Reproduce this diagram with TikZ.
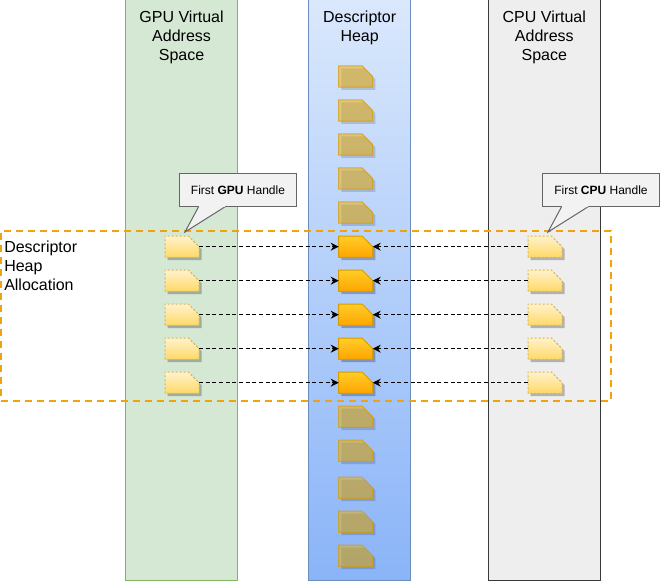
\documentclass[tikz,border=0pt]{standalone}
\usepackage{fontspec}
\setmainfont{Liberation Sans}
\usetikzlibrary{positioning,shadows,arrows.meta}
\definecolor{gpufill}{HTML}{D5E8D4}
\definecolor{gpuline}{HTML}{82B366}
\definecolor{heaptop}{HTML}{DAE8FC}
\definecolor{heapbot}{HTML}{8AB4F8}
\definecolor{heapline}{HTML}{6C8EBF}
\definecolor{cpufill}{HTML}{EEEEEE}
\definecolor{cpuline}{HTML}{36393D}
\definecolor{allocline}{HTML}{F0A30A}
\definecolor{usedtop}{HTML}{FFCD28}
\definecolor{usedbot}{HTML}{FFA500}
\definecolor{usedline}{HTML}{D79B00}
\definecolor{freefill}{HTML}{F0B000}
\definecolor{handletop}{HTML}{FFF2CC}
\definecolor{handlebot}{HTML}{FFD966}
\definecolor{handleline}{HTML}{D6B656}
\tikzset{
  column/.style={draw,anchor=north west,minimum height=436pt,inner sep=0pt,outer sep=0pt,line width=0.75pt},
  coltitle/.style={align=center,font=\fontsize{12}{14.25}\selectfont,inner sep=0pt},
  cardbox/.style={rectangle,minimum width=25.5pt,minimum height=16pt,inner sep=0pt,outer sep=0pt},
  card/.style={line width=0.75pt,line join=round,
    drop shadow={shadow xshift=2pt,shadow yshift=-2pt,opacity=0.25,fill=black}},
  handlecard/.style={card,dash pattern=on 1.5pt off 1.5pt,draw=handleline,top color=handletop,bottom color=handlebot},
  freecard/.style={line width=0.75pt,opacity=0.5,draw opacity=0.7,draw=usedline,fill=freefill,
    drop shadow={shadow xshift=2pt,shadow yshift=-2pt,opacity=0.15,fill=black}},
  usedcard/.style={card,draw=usedline,top color=usedtop,bottom color=usedbot},
  handle/.style={draw=black!60,fill=black!5,anchor=north west,inner sep=0pt,outer sep=0pt,line width=0.75pt,
    minimum width=88pt,minimum height=25pt,font=\fontsize{9}{11}\selectfont},
  tail/.style={draw=black!60,fill=black!5,line width=0.75pt},
  link/.style={densely dashed,-{Stealth[length=6pt,width=6pt]},line width=0.75pt}
}
% a card: named box at (#3), its outline in style #2
\newcommand{\cardat}[3]{
  \node[cardbox] (#1) at (#3) {};
  \path[#2] (#1.south west) -- (#1.north west) -- ([xshift=-8pt]#1.north east)
    -- ([yshift=-8pt]#1.north east) -- (#1.south east) -- cycle;
}
\begin{document}
\begin{tikzpicture}[x=0.75pt,y=-0.75pt]
  \useasboundingbox (0,0) rectangle (660,581);
  % the three columns
  \node[column,draw=gpuline,fill=gpufill,minimum width=84.4pt] (gpuspace) at (125.3,-0.5) {};
  \node[column,draw=heapline,top color=heaptop,bottom color=heapbot,minimum width=77pt] (heapspace) at (308.3,-0.5) {};
  \node[column,draw=cpuline,fill=cpufill,minimum width=84pt] (cpuspace) at (488.3,-0.5) {};
  \node[coltitle,below=8pt of gpuspace.north] (gputitle) {GPU Virtual\\Address\\Space};
  \node[coltitle,below=8pt of heapspace.north] (heaptitle) {Descriptor\\Heap};
  \node[coltitle,below=8pt of cpuspace.north] (cputitle) {CPU Virtual\\Address\\Space};
  % heap entries outside the allocation
  \foreach \n/\y in {1/76.5,2/110.5,3/144.5,4/178.5,5/212.5,6/416.7,7/450.7,8/487.7,9/521.7,10/555.7}
    {\cardat{free\n}{freecard}{355.7,\y}}
  % the allocation
  \foreach \n/\y in {1/246.7,2/280.7,3/314.7,4/348.7,5/382.7} {
    \cardat{heap\n}{usedcard}{355.7,\y}
    \cardat{gpu\n}{handlecard}{182,\y}
    \cardat{cpu\n}{handlecard}{545,\y}
    \draw[link] (gpu\n) -- (heap\n);
    \draw[link] (cpu\n) -- (heap\n);
  }
  \node[draw=allocline,dash pattern=on 5.25pt off 3.75pt,line width=1.5pt,minimum width=457.5pt,minimum height=127.5pt,anchor=north west,inner sep=0pt,outer sep=0pt] (alloc) at (1,231) {};
  \node[coltitle,align=left,anchor=north west] (alloctitle) at (4,241) {Descriptor\\Heap\\Allocation};
  % the two handle boxes
  \node[handle] (gpuhandle) at (179.3,173.3) {First \textbf{GPU} Handle};
  \node[handle] (cpuhandle) at (542.3,173.3) {First \textbf{CPU} Handle};
  \coordinate (gputip) at (185,232);
  \coordinate (cputip) at (548,232);
  \draw[tail] ([xshift=14.5pt]gpuhandle.south west) -- (gputip) -- ([xshift=34.5pt]gpuhandle.south west);
  \draw[tail] ([xshift=14.5pt]cpuhandle.south west) -- (cputip) -- ([xshift=34.5pt]cpuhandle.south west);
  \fill[black!5] ([xshift=15pt,yshift=-0.4pt]gpuhandle.south west) rectangle ([xshift=34pt,yshift=0.4pt]gpuhandle.south west);
  \fill[black!5] ([xshift=15pt,yshift=-0.4pt]cpuhandle.south west) rectangle ([xshift=34pt,yshift=0.4pt]cpuhandle.south west);
\end{tikzpicture}
\end{document}
